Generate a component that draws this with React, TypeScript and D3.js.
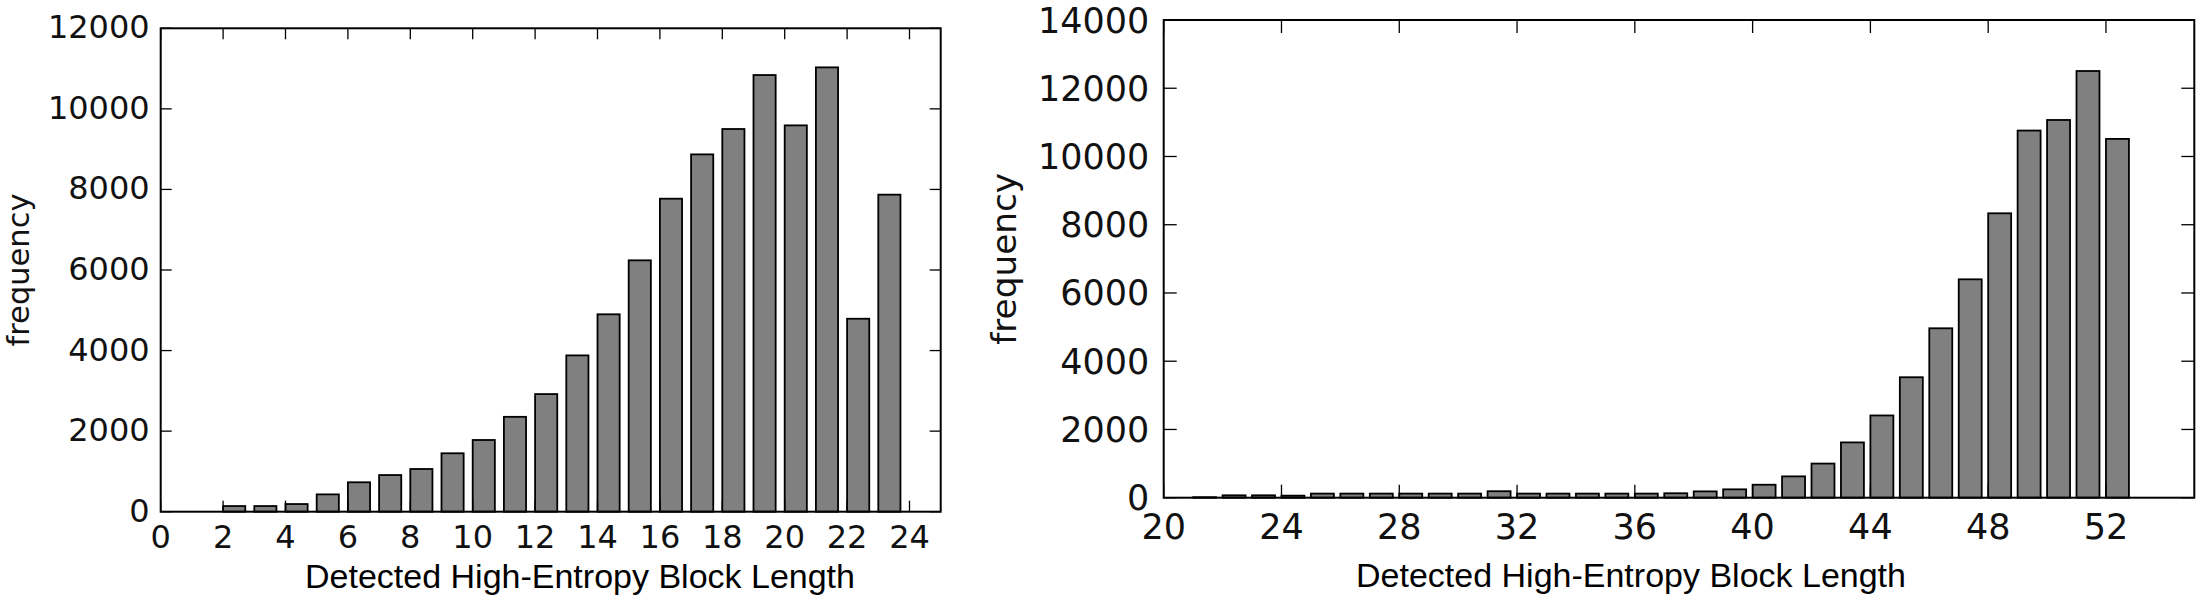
import * as d3 from "d3";

// left panel: block lengths 2..23
const leftLengths = [2, 3, 4, 5, 6, 7, 8, 9, 10, 11, 12, 13, 14, 15, 16, 17, 18, 19, 20, 21, 22, 23];
const leftFreq = [
  140, 140, 190, 430, 730, 910, 1060, 1450, 1780, 2355, 2920, 3880, 4900, 6240, 7770, 8870, 9500,
  10840, 9590, 11030, 4790, 7870,
];
const leftXTicks = [0, 2, 4, 6, 8, 10, 12, 14, 16, 18, 20, 22, 24];
const leftYTicks = [0, 2000, 4000, 6000, 8000, 10000, 12000];

// right panel: block lengths 21..52
const rightLengths = [
  21, 22, 23, 24, 25, 26, 27, 28, 29, 30, 31, 32, 33, 34, 35, 36, 37, 38, 39, 40, 41, 42, 43, 44, 45,
  46, 47, 48, 49, 50, 51, 52,
];
const rightFreq = [
  15, 70, 70, 60, 120, 120, 120, 120, 120, 120, 190, 120, 120, 120, 120, 120, 130, 185, 245, 380, 625,
  1000, 1620, 2410, 3530, 4965, 6400, 8335, 10760, 11070, 12505, 10515,
];
const rightXTicks = [20, 24, 28, 32, 36, 40, 44, 48, 52];
const rightYTicks = [0, 2000, 4000, 6000, 8000, 10000, 12000, 14000];

const TICK_FONT = "'DejaVu Sans', sans-serif";
const LABEL_FONT = "'Liberation Sans', Arial, sans-serif";

type PanelProps = {
  lengths: number[];
  freq: number[];
  xTicks: number[];
  yTicks: number[];
  xDomain: [number, number];
  yDomain: [number, number];
  left: number;
  right: number;
  top: number;
  bottom: number;
  barWidth: number;
  fontSize: number;
  tickLen: number;
  xTickDy: number;
  yTickGap: number;
  yTickDy: number;
  xLabelX: number;
  xLabelY: number;
  yLabelX: number;
  yLabelSize: number;
};

const Panel = (p: PanelProps) => {
  const x = d3.scaleLinear().domain(p.xDomain).range([p.left, p.right]);
  const y = d3.scaleLinear().domain(p.yDomain).range([p.bottom, p.top]);
  const midY = (p.top + p.bottom) / 2;

  return (
    <g>
      <g fill="#808080" stroke="#000" strokeWidth={1.8}>
        {p.lengths.map((d, i) => (
          <rect
            key={d}
            x={x(d)}
            y={y(p.freq[i])}
            width={x(d + p.barWidth) - x(d)}
            height={y(0) - y(p.freq[i])}
          />
        ))}
      </g>

      {/* inward ticks on all four sides */}
      <g stroke="#000" strokeWidth={1.3}>
        {p.xTicks.map((t) => (
          <g key={"x" + t}>
            <line x1={x(t)} x2={x(t)} y1={p.bottom} y2={p.bottom - p.tickLen} />
            <line x1={x(t)} x2={x(t)} y1={p.top} y2={p.top + p.tickLen} />
          </g>
        ))}
        {p.yTicks.map((t) => (
          <g key={"y" + t}>
            <line x1={p.left} x2={p.left + p.tickLen} y1={y(t)} y2={y(t)} />
            <line x1={p.right} x2={p.right - p.tickLen} y1={y(t)} y2={y(t)} />
          </g>
        ))}
      </g>

      <rect
        x={p.left}
        y={p.top}
        width={p.right - p.left}
        height={p.bottom - p.top}
        fill="none"
        stroke="#000"
        strokeWidth={2}
      />

      <g fontFamily={TICK_FONT} fontSize={p.fontSize} fill="#111">
        {p.xTicks.map((t) => (
          <text key={"xl" + t} x={x(t)} y={p.bottom + p.xTickDy} textAnchor="middle">
            {t}
          </text>
        ))}
        {p.yTicks.map((t) => (
          <text key={"yl" + t} x={p.left - p.yTickGap} y={y(t) + p.yTickDy} textAnchor="end">
            {t}
          </text>
        ))}
      </g>

      <text
        x={p.xLabelX}
        y={p.xLabelY}
        textAnchor="middle"
        fontFamily={LABEL_FONT}
        fontSize={34}
        fill="#000"
      >
        Detected High-Entropy Block Length
      </text>
      <text
        transform={`translate(${p.yLabelX},${midY}) rotate(-90)`}
        textAnchor="middle"
        fontFamily={TICK_FONT}
        fontSize={p.yLabelSize}
        fill="#111"
      >
        frequency
      </text>
    </g>
  );
};

export default function App() {
  return (
    <svg
      width={2200}
      height={600}
      viewBox="0 0 2200 600"
      style={{ position: "absolute", left: 0, top: 0, background: "#fff" }}
    >
      <Panel
        lengths={leftLengths}
        freq={leftFreq}
        xTicks={leftXTicks}
        yTicks={leftYTicks}
        xDomain={[0, 25]}
        yDomain={[0, 12000]}
        left={160.7}
        right={940.7}
        top={28.3}
        bottom={511.7}
        barWidth={0.71}
        fontSize={32}
        tickLen={11}
        xTickDy={36.6}
        yTickGap={11}
        yTickDy={10}
        xLabelX={580}
        xLabelY={588}
        yLabelX={29}
        yLabelSize={30.5}
      />
      <Panel
        lengths={rightLengths}
        freq={rightFreq}
        xTicks={rightXTicks}
        yTicks={rightYTicks}
        xDomain={[20, 55]}
        yDomain={[0, 14000]}
        left={1163.7}
        right={2194.3}
        top={20}
        bottom={497.7}
        barWidth={0.78}
        fontSize={35}
        tickLen={13}
        xTickDy={41.6}
        yTickGap={14.4}
        yTickDy={12.5}
        xLabelX={1631}
        xLabelY={587}
        yLabelX={1016}
        yLabelSize={34.3}
      />
    </svg>
  );
}
